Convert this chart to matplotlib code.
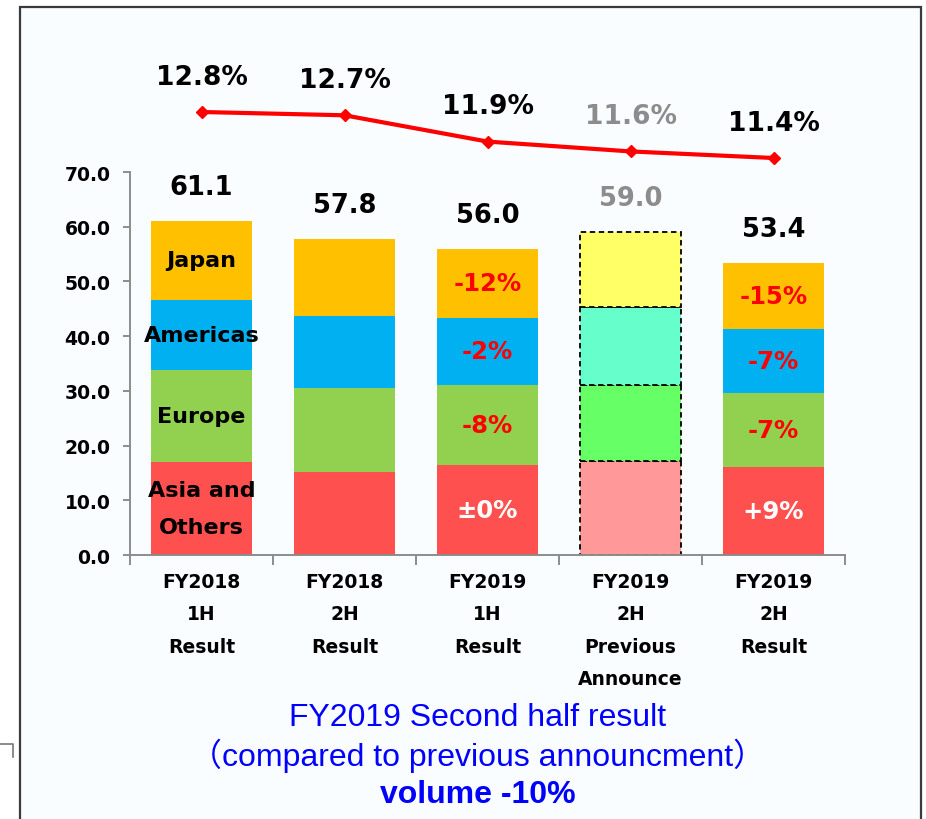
import numpy as np
import matplotlib.pyplot as plt
from matplotlib.patches import Rectangle
from matplotlib.lines import Line2D

# sales volume by region (bn), stacked bottom -> top
categories = ["FY2018\n1H\nResult", "FY2018\n2H\nResult", "FY2019\n1H\nResult",
              "FY2019\n2H\nPrevious\nAnnounce", "FY2019\n2H\nResult"]
asia = [17.0, 15.1, 16.5, 17.1, 16.1]
europe = [16.9, 15.4, 14.6, 14.0, 13.6]
americas = [12.8, 13.1, 12.2, 14.2, 11.7]
japan = [14.4, 14.2, 12.7, 13.7, 12.0]
margin = [12.8, 12.7, 11.9, 11.6, 11.4]

region_names = ["Asia and\nOthers", "Europe", "Americas", "Japan"]
change_1h = ["±0%", "-8%", "-2%", "-12%"]
change_2h = ["+9%", "-7%", "-7%", "-15%"]

FORECAST = 3  # index of the previous-announcement bar

fig = plt.figure(figsize=(9.26, 8.2), dpi=100)
fig.patch.set_facecolor("white")

# slide frame
fig.add_artist(Rectangle((20 / 926, -0.02), 901 / 926, 1 - 8 / 820 + 0.02,
                         transform=fig.transFigure, facecolor="#fafdff",
                         edgecolor="#3a3a3a", lw=1.6, zorder=-5))
fig.add_artist(Line2D([0, 13 / 926, 13 / 926], [1 - 745 / 820, 1 - 745 / 820, 1 - 758 / 820],
                      transform=fig.transFigure, color="#777777", lw=1.2))

ax = fig.add_axes([130 / 926, 1 - 556 / 820, 715 / 926, 496 / 820])
ax.set_facecolor("none")
ax.set_xlim(-0.5, 4.5)
ax.set_ylim(0, 90.66)

x = np.arange(len(categories))
w = 0.71

series = [asia, europe, americas, japan]
colors = ["#ff5050", "#92d050", "#00b0f0", "#ffc000"]
fc_colors = ["#ff9999", "#66ff66", "#66ffcc", "#ffff66"]

bottom = np.zeros(len(x))
for vals, c, fc in zip(series, colors, fc_colors):
    face = [fc if i == FORECAST else c for i in range(len(x))]
    edge = ["black" if i == FORECAST else "none" for i in range(len(x))]
    ax.bar(x, vals, w, bottom=bottom, color=face, edgecolor=edge,
           linestyle=(0, (3, 2)), linewidth=1.3)
    bottom += np.array(vals)
totals = bottom

# segment labels
seg_bottom = np.zeros(len(x))
for k, vals in enumerate(series):
    mid = seg_bottom + np.array(vals) / 2
    ax.text(0, mid[0], region_names[k], ha="center", va="center",
            fontsize=16, fontweight="bold", linespacing=2.1)
    for i, lab in [(2, change_1h[k]), (4, change_2h[k])]:
        col = "white" if k == 0 else "#ff0000"
        ax.text(i, mid[i], lab, ha="center", va="center",
                fontsize=17.5, fontweight="bold", color=col)
    seg_bottom += np.array(vals)

# totals on top of bars
for i, t in enumerate(totals):
    ax.annotate(f"{t:.1f}", (i, t), xytext=(0, 15), textcoords="offset points",
                ha="center", va="bottom", fontsize=18.5, fontweight="bold",
                color="#8c8c8c" if i == FORECAST else "black")

# axes styling
for s in ["top", "right"]:
    ax.spines[s].set_visible(False)
ax.spines["left"].set_bounds(0, 70)
ax.spines["left"].set_color("#8c8c8c")
ax.spines["bottom"].set_color("#8c8c8c")
ax.spines["left"].set_linewidth(1.4)
ax.spines["bottom"].set_linewidth(1.4)

yt = np.arange(0, 71, 10)
ax.set_yticks(yt)
ax.set_yticklabels([f"{v:.1f}" for v in yt], fontsize=13.5, fontweight="bold")
ax.tick_params(axis="y", length=5, width=1.4, color="#8c8c8c", pad=9)

ax.set_xticks(x)
ax.set_xticklabels(categories, fontsize=13.5, fontweight="bold", linespacing=1.9)
ax.tick_params(axis="x", which="major", length=0, pad=12)
ax.set_xticks(np.arange(-0.5, 4.6, 1), minor=True)
ax.tick_params(axis="x", which="minor", length=7, width=1.4, color="#8c8c8c")

# operating margin line
ax2 = ax.twinx()
ax2.set_ylim(-0.683, 14.413)
ax2.axis("off")
ax2.plot(x, margin, color="#ff0000", lw=3, marker="D", markersize=6.5)
for i, m in enumerate(margin):
    ax2.annotate(f"{m:.1f}%", (i, m), xytext=(0, 16), textcoords="offset points",
                 ha="center", va="bottom", fontsize=19, fontweight="bold",
                 color="#8c8c8c" if i == FORECAST else "black")

# caption
fam = ["Liberation Sans", "Noto Sans CJK JP"]
fig.text(478 / 926, 1 - 718 / 820, "FY2019 Second half result", ha="center", va="center",
         fontsize=23, color="#0000ff", family=fam)
fig.text(478 / 926, 1 - 756 / 820, "（compared to previous announcment）", ha="center", va="center",
         fontsize=23, color="#0000ff", family=fam)
fig.text(478 / 926, 1 - 795 / 820, "volume -10%", ha="center", va="center",
         fontsize=23, color="#0000ff", fontweight="bold", family=fam)

fig.savefig("out.png", dpi=100)
